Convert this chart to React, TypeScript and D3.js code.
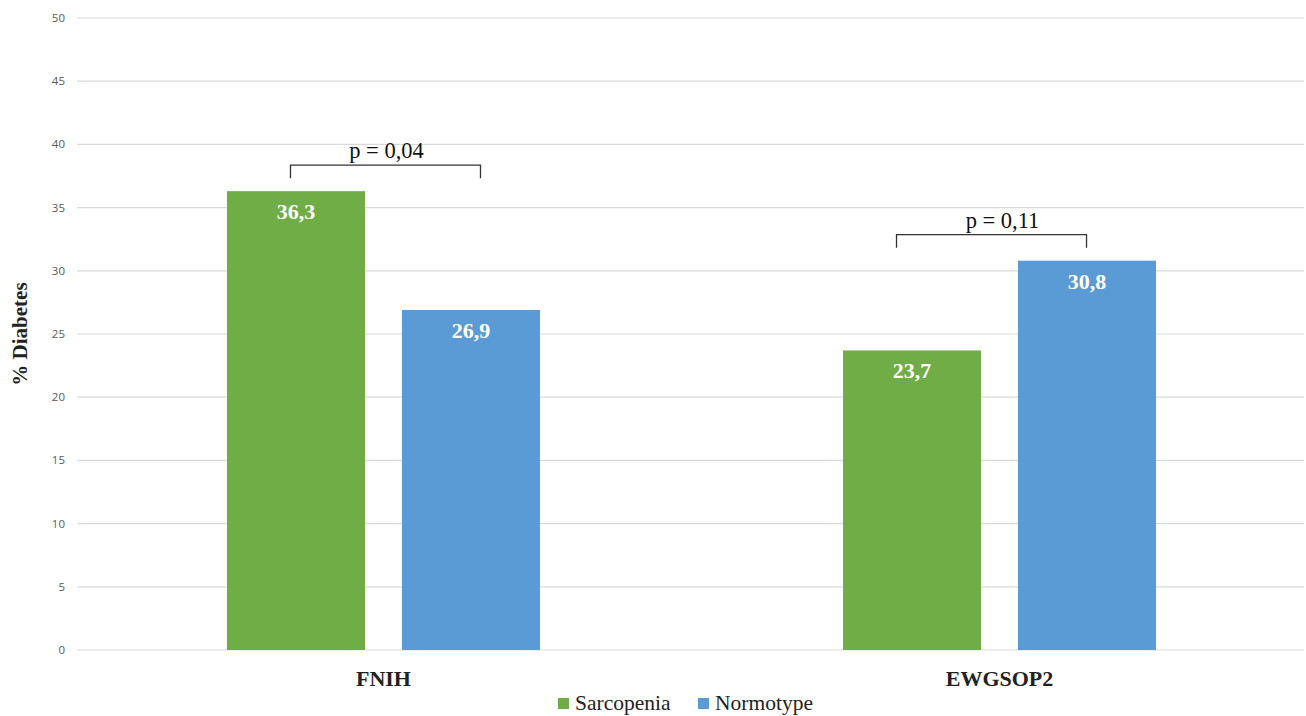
import React from "react";
import * as d3 from "d3";

const categories = ["FNIH", "EWGSOP2"];
const seriesNames = ["Sarcopenia", "Normotype"];
const sarcopenia = [36.3, 23.7];
const normotype = [26.9, 30.8];
const pValues = ["p = 0,04", "p = 0,11"];
const yTicks = [0, 5, 10, 15, 20, 25, 30, 35, 40, 45, 50];
const colors = ["#70ad47", "#5b9bd5"];

const W = 1306;
const H = 716;
const left = 77;
const right = 1304;
const top = 18;
const bottom = 650;
const bracketShift = [2, -8];

export default function App() {
  const y = d3.scaleLinear().domain([0, 50]).range([bottom, top]);
  const x0 = d3
    .scaleBand<string>()
    .domain(categories)
    .range([left, 1306])
    .paddingInner(0.492)
    .paddingOuter(0.2435);
  const x1 = d3
    .scaleBand<string>()
    .domain(seriesNames)
    .range([0, x0.bandwidth()])
    .paddingInner(0.211)
    .paddingOuter(0);
  const values = [sarcopenia, normotype];
  const serif = "'Liberation Serif', 'Times New Roman', serif";
  const sans = "'Open Sans', 'Liberation Sans', sans-serif";

  return (
    <div style={{ position: "absolute", left: 0, top: 0 }}>
      <svg width={W} height={H} style={{ display: "block", background: "#fff" }}>
        {yTicks.map((t) => (
          <g key={t}>
            <line x1={left} x2={right} y1={y(t)} y2={y(t)} stroke="#d9d9d9" strokeWidth={1.2} />
            <text x={65} y={y(t)} dy="0.35em" textAnchor="end" fontFamily={sans} fontSize={11.5} fill="#595959">
              {t}
            </text>
          </g>
        ))}
        {categories.map((c, ci) => {
          const gx = x0(c)!;
          const gc = gx + x0.bandwidth() / 2;
          const maxV = Math.max(sarcopenia[ci], normotype[ci]);
          const bTop = y(maxV);
          const bc = gc + bracketShift[ci];
          const bx1 = bc - 95;
          const bx2 = bc + 95;
          return (
            <g key={c}>
              {seriesNames.map((s, si) => {
                const v = values[si][ci];
                const bx = gx + x1(s)!;
                return (
                  <g key={s}>
                    <rect x={bx} y={y(v)} width={x1.bandwidth()} height={y(0) - y(v)} fill={colors[si]} />
                    <text
                      x={bx + x1.bandwidth() / 2}
                      y={y(v) + 28}
                      textAnchor="middle"
                      fontFamily={serif}
                      fontWeight="bold"
                      fontSize={22}
                      fill="#fff"
                    >
                      {String(v).replace(".", ",")}
                    </text>
                  </g>
                );
              })}
              <path
                d={`M${bx1},${bTop - 13}V${bTop - 26}H${bx2}V${bTop - 13}`}
                fill="none"
                stroke="#333"
                strokeWidth={1.3}
              />
              <text x={gc + 3} y={bTop - 33} textAnchor="middle" fontFamily={serif} fontSize={22.5} fill="#111">
                {pValues[ci]}
              </text>
              <text
                x={gc}
                y={686}
                textAnchor="middle"
                fontFamily={serif}
                fontWeight="bold"
                fontSize={22}
                fill="#222"
              >
                {c}
              </text>
            </g>
          );
        })}
        <text
          transform={`translate(27,${(top + bottom) / 2}) rotate(-90)`}
          textAnchor="middle"
          fontFamily={serif}
          fontWeight="bold"
          fontSize={21}
          fill="#222"
        >
          % Diabetes
        </text>
        {seriesNames.map((s, i) => {
          const lx = [558, 698][i];
          return (
            <g key={s}>
              <rect x={lx} y={698} width={11} height={11} fill={colors[i]} />
              <text x={lx + 17} y={710} fontFamily={serif} fontSize={21.5} fill="#222">
                {s}
              </text>
            </g>
          );
        })}
      </svg>
    </div>
  );
}
